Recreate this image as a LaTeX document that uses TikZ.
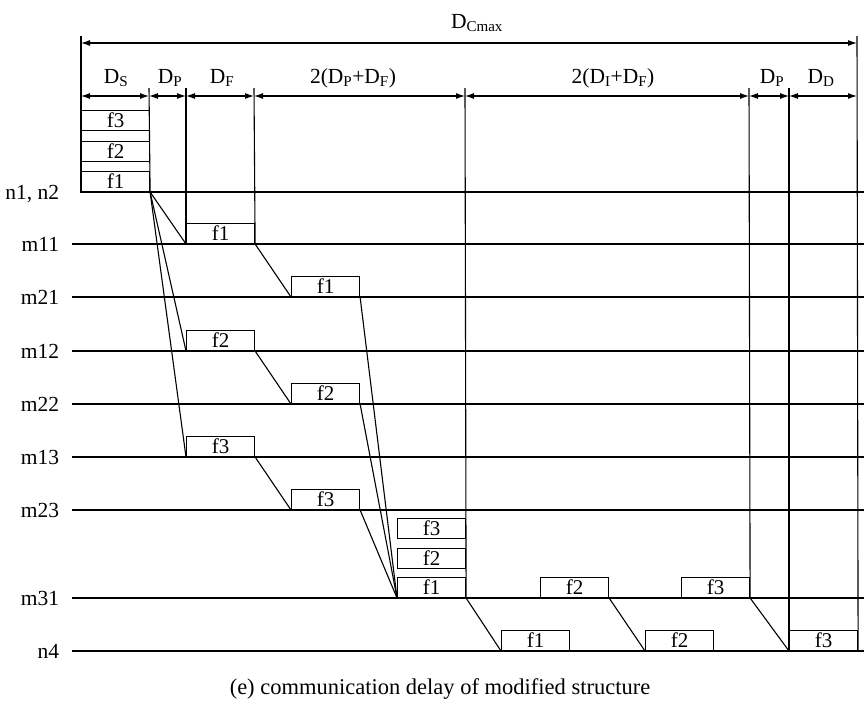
\documentclass[tikz,border=0pt]{standalone}
\usepackage{fontspec}
\setmainfont{Liberation Serif}
\usetikzlibrary{arrows.meta,positioning}

\begin{document}
\begin{tikzpicture}[x=1pt,y=-1pt,line width=1.1pt,
 fr/.style={draw,line width=1.1pt,minimum width=68pt,minimum height=20pt,inner sep=0pt,anchor=south west,font=\fontsize{21}{21}\selectfont},
 lbl/.style={anchor=base east,font=\fontsize{21.5}{21.5}\selectfont},
 hd/.style={anchor=base,font=\fontsize{21.5}{21.5}\selectfont},
 dim/.style={{Latex[length=9pt,width=6pt]}-{Latex[length=9pt,width=6pt]}}]
\useasboundingbox (0,0) rectangle (864,704);

% time lines
\foreach \n/\t/\y in {m11/m11/244,m21/m21/297,m12/m12/351,m22/m22/404,m13/m13/457,m23/m23/510,m31/m31/598,n4/n4/651}{
  \node[lbl] (t\n) at (63,\y+7) {\t};
  \coordinate (a\n) at (72,\y);
  \coordinate (b\n) at (864,\y);
  \draw (a\n) -- (b\n);}
\node[lbl] (tn12) at (63,199) {n1, n2};
\coordinate (an12) at (80,192);
\coordinate (bn12) at (864,192);
\draw (an12) -- (bn12);

% frames
\node[fr] (s1) at (81,192) {f1};
\node[fr] (s2) at (81,162) {f2};
\node[fr] (s3) at (81,131) {f3};
\node[fr] (p11) at (186,244) {f1};
\node[fr] (p21) at (291,297) {f1};
\node[fr] (p12) at (186,351) {f2};
\node[fr] (p22) at (291,404) {f2};
\node[fr] (p13) at (186,457) {f3};
\node[fr] (p23) at (291,510) {f3};
\node[fr] (q1) at (397,598) {f1};
\node[fr] (q2) at (397,569) {f2};
\node[fr] (q3) at (397,539) {f3};
\node[fr] (r2) at (540,598) {f2};
\node[fr] (r3) at (681,598) {f3};
\node[fr] (u1) at (501,651) {f1};
\node[fr] (u2) at (645,651) {f2};
\node[fr] (u3) at (789,651) {f3};

% transfers
\draw (s1.south east) -- (p11.south west);
\draw (s1.south east) -- (p12.south west);
\draw (s1.south east) -- (p13.south west);
\draw (p11.south east) -- (p21.south west);
\draw (p12.south east) -- (p22.south west);
\draw (p13.south east) -- (p23.south west);
\draw (p21.south east) -- (q1.south west);
\draw (p22.south east) -- (q1.south west);
\draw (p23.south east) -- (q1.south west);
\draw (q1.south east) -- (u1.south west);
\draw (r2.south east) -- (u2.south west);
\draw (r3.south east) -- (u3.south west);

% boundaries
\coordinate (k0) at (81,36);
\coordinate (k1) at (149,88);
\coordinate (k2) at (186,88);
\coordinate (k3) at (254,88);
\coordinate (k4) at (465,88);
\coordinate (k5) at (749,88);
\coordinate (k6) at (789,88);
\coordinate (k7) at (857,36);
\draw (k0) -- (s1.south west);
\draw (k1) -- (s1.south east);
\draw (k2) -- (p11.south west);
\draw (k3) -- (p11.south east);
\draw (k4) -- (q1.south east);
\draw (k5) -- (r3.south east);
\draw (k6) -- (u3.south west);
\draw (k7) -- (u3.south east);

% delays
\foreach \i/\x in {0/81,1/149,2/186,3/254,4/465,5/749,6/789,7/857}
  \coordinate (d\i) at (\x,96);
\foreach \i/\j in {0/1,1/2,2/3,3/4,4/5,5/6,6/7}
  \draw[dim] (d\i) -- (d\j);
\coordinate (c0) at (81,43);
\coordinate (c1) at (857,43);
\draw[dim] (c0) -- (c1);

\node[hd] (hmax) at (477,28) {D\textsubscript{Cmax}};
\node[hd] (hs) at (116,83) {D\textsubscript{S}};
\node[hd] (hp) at (170,83) {D\textsubscript{P}};
\node[hd] (hf) at (222,83) {D\textsubscript{F}};
\node[hd] (hpf) at (353,83) {2(D\textsubscript{P}+D\textsubscript{F})};
\node[hd] (hif) at (613,83) {2(D\textsubscript{I}+D\textsubscript{F})};
\node[hd] (hp2) at (772,83) {D\textsubscript{P}};
\node[hd] (hd) at (821,83) {D\textsubscript{D}};

\node[font=\fontsize{22.5}{22.5}\selectfont] (cap) at (440,689) {(e) communication delay of modified structure};
\end{tikzpicture}
\end{document}
